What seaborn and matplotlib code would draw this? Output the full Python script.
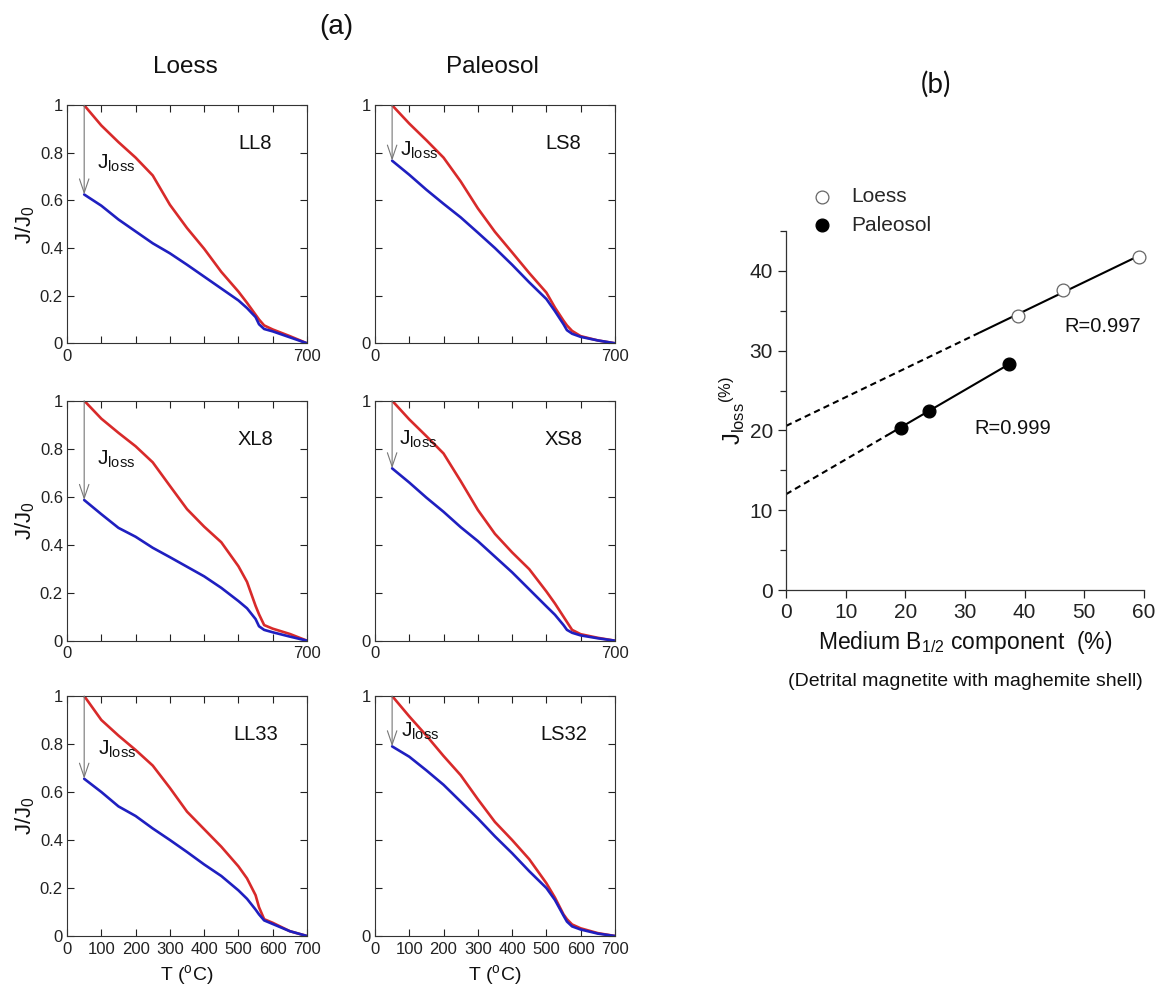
import numpy as np
import pandas as pd
import matplotlib
matplotlib.use('Agg')
import matplotlib.pyplot as plt
import seaborn as sns
from matplotlib.ticker import MultipleLocator

# ---------------- data ----------------
temps = [50, 100, 150, 200, 250, 300, 350, 400, 450, 500, 525, 550, 560, 575, 600, 650, 700]

red_LL8 = [1.0, 0.915, 0.845, 0.78, 0.705, 0.582, 0.484, 0.397, 0.30, 0.217, 0.17, 0.12, 0.10, 0.075, 0.058, 0.03, 0.0]
blue_LL8 = [0.625, 0.578, 0.52, 0.47, 0.42, 0.378, 0.33, 0.28, 0.23, 0.18, 0.148, 0.11, 0.08, 0.06, 0.05, 0.025, 0.0]

red_LS8 = [1.0, 0.923, 0.853, 0.78, 0.68, 0.567, 0.468, 0.382, 0.295, 0.213, 0.15, 0.095, 0.075, 0.052, 0.03, 0.012, 0.0]
blue_LS8 = [0.767, 0.708, 0.645, 0.586, 0.529, 0.465, 0.40, 0.33, 0.256, 0.186, 0.135, 0.08, 0.055, 0.04, 0.027, 0.012, 0.0]

red_XL8 = [1.0, 0.925, 0.866, 0.81, 0.743, 0.645, 0.548, 0.475, 0.41, 0.31, 0.245, 0.145, 0.11, 0.065, 0.05, 0.028, 0.0]
blue_XL8 = [0.586, 0.527, 0.47, 0.433, 0.387, 0.348, 0.308, 0.268, 0.22, 0.165, 0.135, 0.09, 0.06, 0.045, 0.035, 0.017, 0.0]

red_XS8 = [1.0, 0.922, 0.852, 0.78, 0.665, 0.545, 0.445, 0.368, 0.298, 0.205, 0.155, 0.10, 0.078, 0.045, 0.027, 0.012, 0.0]
blue_XS8 = [0.718, 0.659, 0.596, 0.537, 0.473, 0.415, 0.35, 0.285, 0.214, 0.143, 0.108, 0.065, 0.045, 0.033, 0.022, 0.01, 0.0]

red_LL33 = [1.0, 0.90, 0.835, 0.775, 0.71, 0.617, 0.518, 0.445, 0.372, 0.29, 0.24, 0.17, 0.12, 0.07, 0.055, 0.02, 0.0]
blue_LL33 = [0.655, 0.60, 0.54, 0.50, 0.448, 0.40, 0.35, 0.298, 0.25, 0.19, 0.155, 0.11, 0.09, 0.065, 0.05, 0.02, 0.0]

red_LS32 = [1.0, 0.915, 0.835, 0.75, 0.67, 0.57, 0.475, 0.40, 0.32, 0.22, 0.16, 0.09, 0.07, 0.048, 0.032, 0.012, 0.0]
blue_LS32 = [0.79, 0.747, 0.69, 0.63, 0.56, 0.49, 0.415, 0.345, 0.27, 0.20, 0.15, 0.085, 0.06, 0.04, 0.027, 0.01, 0.0]

samples = ['LL8', 'LS8', 'XL8', 'XS8', 'LL33', 'LS32']
red_curves = [red_LL8, red_LS8, red_XL8, red_XS8, red_LL33, red_LS32]
blue_curves = [blue_LL8, blue_LS8, blue_XL8, blue_XS8, blue_LL33, blue_LS32]
jloss_label_T = [88, 72, 86, 69, 91, 75]
jloss_label_y = [0.735, 0.79, 0.732, 0.815, 0.754, 0.83]

x_ticks_a = [0, 100, 200, 300, 400, 500, 600, 700]
y_ticks_a = [0, 0.2, 0.4, 0.6, 0.8, 1.0]

# panel (b)
loess_x = [38.9, 46.4, 59.2]
loess_y = [34.4, 37.6, 41.8]
paleo_x = [19.2, 24.0, 37.4]
paleo_y = [20.35, 22.5, 28.3]
loess_solid_start = 32.5
paleo_solid_start = 17.0

# ---------------- style ----------------
sns.set_style('ticks')
plt.rcParams['font.family'] = ['Liberation Sans', 'DejaVu Sans']
plt.rcParams['mathtext.fontset'] = 'custom'
plt.rcParams['mathtext.rm'] = 'Liberation Sans'
plt.rcParams['mathtext.it'] = 'Liberation Sans:italic'

RED = '#d82a2a'
BLUE = '#1f1fc0'
SPINE = '#333333'
TXT = '#111111'

fig = plt.figure(figsize=(11.62, 9.91), dpi=100)

lefts = [0.0577, 0.3227]
bottoms = [0.6536, 0.3535, 0.0555]
heights = [0.2402, 0.2422, 0.2422]
W = 0.2065

for i, name in enumerate(samples):
    row, col = divmod(i, 2)
    ax = fig.add_axes([lefts[col], bottoms[row], W, heights[row]])
    df = pd.DataFrame({'T': temps, 'red': red_curves[i], 'blue': blue_curves[i]})
    sns.lineplot(data=df, x='T', y='red', ax=ax, color=RED, lw=1.9, estimator=None, sort=False)
    sns.lineplot(data=df, x='T', y='blue', ax=ax, color=BLUE, lw=1.9, estimator=None, sort=False)
    ax.annotate('', xy=(temps[0], blue_curves[i][0]), xytext=(temps[0], red_curves[i][0]),
                arrowprops=dict(arrowstyle='->,head_length=0.5,head_width=0.17', color='#777777',
                                lw=0.8, mutation_scale=20, shrinkA=0, shrinkB=0))
    ax.text(jloss_label_T[i], jloss_label_y[i], r'$\mathregular{J_{loss}}$', fontsize=15,
            ha='left', va='baseline', color=TXT)
    ax.text(550, 0.84, name, fontsize=14.5, ha='center', va='center', color=TXT)
    ax.set_xlim(0, 700)
    ax.set_ylim(0, 1)
    ax.set_xticks(x_ticks_a)
    ax.set_yticks(y_ticks_a)
    if row < 2:
        ax.set_xticklabels(['0', '', '', '', '', '', '', '700'])
        ax.set_xlabel('')
    else:
        ax.set_xticklabels([str(t) for t in x_ticks_a])
        ax.set_xlabel(r'T ($\mathregular{^o}$C)', fontsize=14, labelpad=5, color=TXT)
    if col == 0:
        ax.set_yticklabels(['0', '0.2', '0.4', '0.6', '0.8', '1'])
        ax.set_ylabel(r'$\mathregular{J/J_0}$', fontsize=16, labelpad=2, color=TXT)
    else:
        ax.set_yticklabels(['0', '', '', '', '', '1'])
        ax.set_ylabel('')
    ax.tick_params(direction='in', top=True, right=True, length=5, width=0.8,
                   labelsize=12, colors='#222222', pad=4)
    ax.tick_params(axis='y', pad=3)
    for s in ax.spines.values():
        s.set_color(SPINE)
        s.set_linewidth(0.8)

fig.text(336 / 1162, 1 - 27 / 991, '(a)', fontsize=20, ha='center', va='center', color=TXT)
fig.text(185 / 1162, 1 - 73 / 991, 'Loess', fontsize=17.5, ha='center', va='baseline', color=TXT)
fig.text(492 / 1162, 1 - 73 / 991, 'Paleosol', fontsize=17.5, ha='center', va='baseline', color=TXT)
fig.text(936 / 1162, 1 - 84 / 991, '(b)', fontsize=20, ha='center', va='center',
         family=['Lato', 'DejaVu Sans'], color=TXT)

# ---------------- panel (b) ----------------
axb = fig.add_axes([0.6764, 0.4046, 0.3081, 0.3623])
kl = np.polyfit(loess_x, loess_y, 1)
kp = np.polyfit(paleo_x, paleo_y, 1)

def seg(k, x0, x1):
    xs = np.array([x0, x1])
    return pd.DataFrame({'x': xs, 'y': np.polyval(k, xs)})

dash = (3, 2)
d = seg(kl, 0, loess_solid_start)
axb.plot(d['x'], d['y'], color='black', lw=1.5, ls=(0, dash))
d = seg(kl, loess_solid_start, max(loess_x))
sns.lineplot(data=d, x='x', y='y', ax=axb, color='black', lw=1.5)
d = seg(kp, 0, paleo_solid_start)
axb.plot(d['x'], d['y'], color='black', lw=1.5, ls=(0, dash))
d = seg(kp, paleo_solid_start, max(paleo_x))
sns.lineplot(data=d, x='x', y='y', ax=axb, color='black', lw=1.5)

sns.scatterplot(x=loess_x, y=loess_y, ax=axb, marker='o', s=85, facecolor='white',
                edgecolor='#666666', linewidth=0.9, label='Loess', clip_on=False, zorder=5)
sns.scatterplot(x=paleo_x, y=paleo_y, ax=axb, marker='o', s=85, color='black',
                edgecolor='black', linewidth=0.9, label='Paleosol', clip_on=False, zorder=5)

axb.text(53.0, 33.0, 'R=0.997', fontsize=14.5, ha='center', va='center', color=TXT)
axb.text(37.95, 20.3, 'R=0.999', fontsize=14.5, ha='center', va='center', color=TXT)

axb.set_xlim(0, 60)
axb.set_ylim(0, 45)
axb.xaxis.set_major_locator(MultipleLocator(10))
axb.yaxis.set_major_locator(MultipleLocator(10))
axb.yaxis.set_minor_locator(MultipleLocator(5))
sns.despine(ax=axb)
axb.tick_params(which='major', direction='out', length=6, width=0.9, labelsize=15, colors='#222222')
axb.tick_params(which='minor', direction='out', length=4, width=0.9)
for s in axb.spines.values():
    s.set_color(SPINE)
    s.set_linewidth(0.9)
axb.set_xlabel(r'Medium $\mathregular{B_{1/2}}$ component  (%)', fontsize=16.5, labelpad=5, color=TXT)
axb.set_ylabel(r'$\mathregular{J_{loss}{}^{(\%)}}$', fontsize=17, labelpad=2, color=TXT)
fig.text(965 / 1162, 1 - 681 / 991, '(Detrital magnetite with maghemite shell)', fontsize=14,
         ha='center', va='center', color=TXT)
axb.legend(loc='upper left', bbox_to_anchor=(0.02, 1.145), frameon=False, fontsize=15,
           handletextpad=0.4, labelspacing=0.45, borderaxespad=0)

fig.savefig('out.png', dpi=100)
